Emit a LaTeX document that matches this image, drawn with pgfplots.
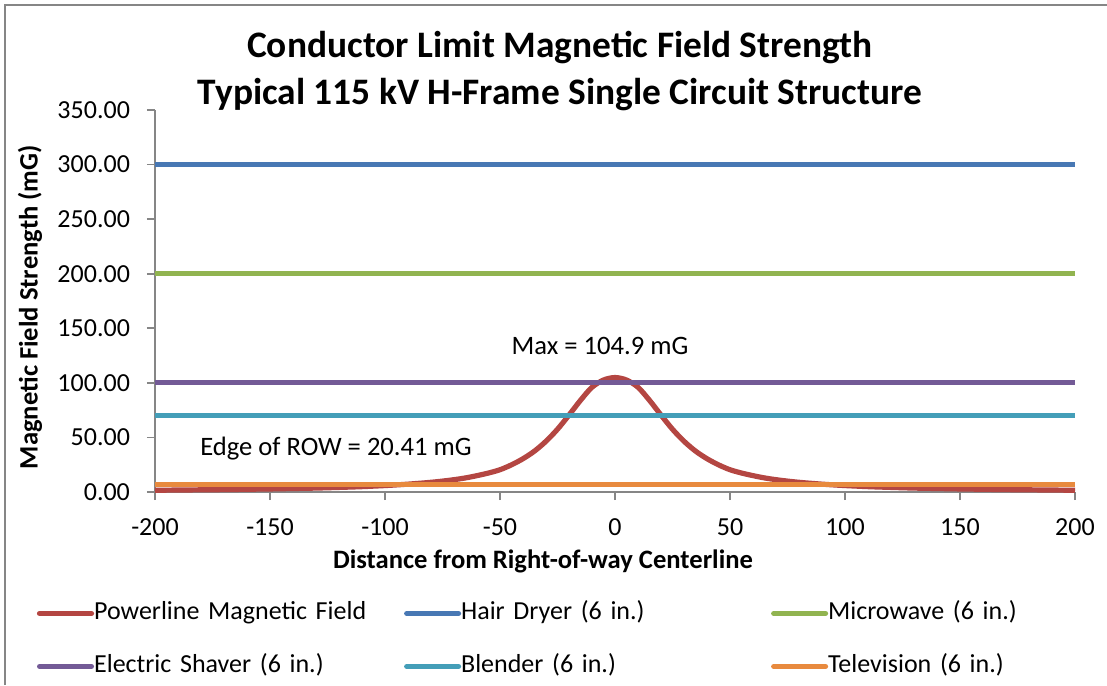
\documentclass[border=0pt]{standalone}
\usepackage{pgfplots}
\pgfplotsset{compat=1.18}
\usepackage{fontspec}
\setmainfont{Carlito}
\definecolor{cRed}{RGB}{180,70,66}
\definecolor{cBlue}{RGB}{72,120,180}
\definecolor{cGreen}{RGB}{145,180,80}
\definecolor{cPurple}{RGB}{115,90,150}
\definecolor{cTeal}{RGB}{68,158,184}
\definecolor{cOrange}{RGB}{232,138,62}
\definecolor{cAxis}{RGB}{134,134,134}
\begin{document}
\begin{tikzpicture}
\useasboundingbox (-77.5pt,-96.5pt) rectangle (476pt,246pt);
\draw[cAxis, line width=1pt] (-75pt,-96.5pt) -- (-75pt,243.5pt) -- (476pt,243.5pt);
\begin{axis}[
  at={(0pt,0pt)}, anchor=south west,
  scale only axis, width=460pt, height=191pt,
  xmin=-200, xmax=200, ymin=0, ymax=350,
  xtick={-200,-150,...,200},
  ytick={0,50,...,350},
  axis x line=bottom, axis y line=left,
  axis line style={cAxis, line width=0.8pt, -},
  every tick/.style={cAxis, line width=0.8pt},
  tick align=outside, major tick length=4pt,
  xtick pos=bottom, ytick pos=left,
  /pgf/number format/assume math mode=true,
  ticklabel style={font=\fontsize{13}{15}\selectfont},
  yticklabel style={xshift=-5pt, /pgf/number format/.cd, fixed, fixed zerofill, precision=2},
  xticklabel style={yshift=-6pt, /pgf/number format/.cd, fixed, precision=0},
  xlabel={Distance from Right-of-way Centerline},
  ylabel={Magnetic Field Strength (mG)},
  label style={font=\bfseries\fontsize{13.3}{15}\selectfont},
  xlabel style={at={(axis description cs:0.4217,-0.183)}, anchor=center},
  ylabel style={at={(axis description cs:-0.1359,0.484)}, anchor=center},
  legend columns=3,
  legend image code/.code={\draw[#1, line cap=round] (0pt,0pt) -- (26pt,0pt);},
  legend style={draw=none, fill=none, at={(axis description cs:-0.1353,-0.275)}, anchor=north west,
    font=\fontsize{13}{15}\selectfont,
    nodes={inner sep=0pt, text width=155pt, align=left, text height=9pt, text depth=3pt},
    row sep=14.5pt, column sep=0pt},
  legend cell align=left,
  clip=false,
]
\addplot[cRed, line width=2.6pt, smooth] coordinates {
(-200,1.6) (-190,1.8) (-180,2.0) (-170,2.2) (-160,2.5) (-150,2.8) (-140,3.2) (-130,3.6) (-120,4.2) (-110,4.9)
(-100,5.9) (-95,6.5) (-90,7.2) (-85,8.0) (-80,8.9) (-75,10.0) (-70,11.3) (-65,12.9) (-60,15.0) (-55,17.4)
(-50,20.41) (-45,24.9) (-40,30.5) (-35,37.5) (-30,46.5) (-25,57.5) (-20,70.5) (-15,84.0) (-10,96.0) (-5,102.6)
(0,104.9)
(5,102.6) (10,96.0) (15,84.0) (20,70.5) (25,57.5) (30,46.5) (35,37.5) (40,30.5) (45,24.9) (50,20.41)
(55,17.4) (60,15.0) (65,12.9) (70,11.3) (75,10.0) (80,8.9) (85,8.0) (90,7.2) (95,6.5) (100,5.9)
(110,4.9) (120,4.2) (130,3.6) (140,3.2) (150,2.8) (160,2.5) (170,2.2) (180,2.0) (190,1.8) (200,1.6)
};
\addlegendentry{Powerline Magnetic Field}
\addplot[cBlue, line width=2.5pt] coordinates {(-200,300) (200,300)};
\addlegendentry{Hair Dryer (6 in.)}
\addplot[cGreen, line width=2.5pt] coordinates {(-200,200) (200,200)};
\addlegendentry{Microwave (6 in.)}
\addplot[cPurple, line width=2.5pt] coordinates {(-200,100) (200,100)};
\addlegendentry{Electric Shaver (6 in.)}
\addplot[cTeal, line width=2.5pt] coordinates {(-200,70) (200,70)};
\addlegendentry{Blender (6 in.)}
\addplot[cOrange, line width=2.5pt] coordinates {(-200,7) (200,7)};
\addlegendentry{Television (6 in.)}
\node[font=\fontsize{13.3}{15}\selectfont] at (axis cs:-6.5,133.8) {Max = 104.9 mG};
\node[font=\fontsize{13.3}{15}\selectfont] at (axis cs:-121.3,39.4) {Edge of ROW = 20.41 mG};
\end{axis}
\node[font=\bfseries\fontsize{18.7}{22}\selectfont] at (202.5pt,222pt) {Conductor Limit Magnetic Field Strength};
\node[font=\bfseries\fontsize{18.7}{22}\selectfont] at (202.5pt,198.5pt) {Typical 115 kV H-Frame Single Circuit Structure};
\end{tikzpicture}
\end{document}
